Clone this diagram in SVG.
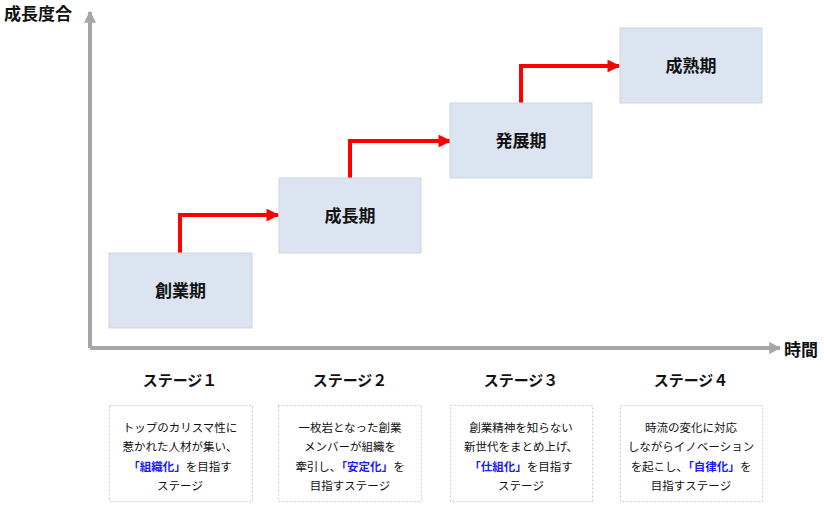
<svg xmlns="http://www.w3.org/2000/svg" width="824" height="508" viewBox="0 0 824 508">
<style>
.jp{font-family:"Noto Sans CJK JP","Liberation Sans",sans-serif;}
.phase rect{fill:#dbe4f0;stroke:#cdd6e2;stroke-width:1;}
.phase text{font-size:17px;font-weight:bold;fill:#111;text-anchor:middle;}
.axis{stroke:#a6a6a6;stroke-width:4;fill:none;}
.step{stroke:#ff0000;stroke-width:4;fill:none;}
.desc rect{fill:#fff;stroke:#c8c8c8;stroke-width:1;stroke-dasharray:2 2;}
.desc text{font-size:11.5px;fill:#111;text-anchor:middle;}
.desc text.head{font-size:15px;font-weight:bold;}
.em{fill:#1a1aff;font-weight:bold;}
.lbl{font-size:17px;font-weight:bold;fill:#111;}
</style>
<defs>
<marker id="ah" viewBox="0 0 10 10" refX="9" refY="5" markerWidth="3.2" markerHeight="3.2" orient="auto" markerUnits="strokeWidth"><path d="M0,0 L10,5 L0,10 z" fill="#ff0000"/></marker>
<marker id="ag" viewBox="0 0 10 10" refX="9" refY="5" markerWidth="3" markerHeight="3" orient="auto" markerUnits="strokeWidth"><path d="M0,0 L10,5 L0,10 z" fill="#a6a6a6"/></marker>
</defs>
<rect width="824" height="508" fill="#fff"/>
<g id="axes">
<path class="axis" d="M90,348 L90,12" marker-end="url(#ag)"/>
<path class="axis" d="M90,348 L780,348" marker-end="url(#ag)"/>
<text class="jp lbl" x="4" y="20">成長度合</text>
<text class="jp lbl" x="784" y="356">時間</text>
</g>
<g id="connectors">
<path class="step" d="M180,253 L180,215 L278,215" marker-end="url(#ah)"/>
<path class="step" d="M350,178 L350,141 L450,141" marker-end="url(#ah)"/>
<path class="step" d="M521,103 L521,66 L619,66" marker-end="url(#ah)"/>
</g>
<g id="phase1" class="phase jp"><rect x="109" y="253" width="143" height="75"/><text x="180.5" y="297">創業期</text></g>
<g id="phase2" class="phase jp"><rect x="279" y="178" width="142" height="75"/><text x="350" y="222">成長期</text></g>
<g id="phase3" class="phase jp"><rect x="450" y="103" width="142" height="75"/><text x="521" y="147">発展期</text></g>
<g id="phase4" class="phase jp"><rect x="620" y="28" width="142" height="75"/><text x="691" y="72">成熟期</text></g>
<g id="stage1" class="desc jp">
<text class="head" x="180" y="386">ステージ１</text>
<rect x="109.5" y="405.5" width="143" height="96"/>
<text x="180" y="432">トップのカリスマ性に</text>
<text x="180" y="451">惹かれた人材が集い、</text>
<text x="180" y="471"><tspan class="em">「組織化」</tspan>を目指す</text>
<text x="180" y="490">ステージ</text>
</g>
<g id="stage2" class="desc jp">
<text class="head" x="350" y="386">ステージ２</text>
<rect x="278.5" y="405.5" width="143" height="96"/>
<text x="350" y="432">一枚岩となった創業</text>
<text x="350" y="451">メンバーが組織を</text>
<text x="350" y="471">牽引し、<tspan class="em">「安定化」</tspan>を</text>
<text x="350" y="490">目指すステージ</text>
</g>
<g id="stage3" class="desc jp">
<text class="head" x="521" y="386">ステージ３</text>
<rect x="450.5" y="405.5" width="142" height="96"/>
<text x="521" y="432">創業精神を知らない</text>
<text x="521" y="451">新世代をまとめ上げ、</text>
<text x="521" y="471"><tspan class="em">「仕組化」</tspan>を目指す</text>
<text x="521" y="490">ステージ</text>
</g>
<g id="stage4" class="desc jp">
<text class="head" x="691" y="386">ステージ４</text>
<rect x="620.5" y="405.5" width="142" height="96"/>
<text x="691" y="432">時流の変化に対応</text>
<text x="691" y="451">しながらイノベーション</text>
<text x="691" y="471">を起こし、<tspan class="em">「自律化」</tspan>を</text>
<text x="691" y="490">目指すステージ</text>
</g>
</svg>
